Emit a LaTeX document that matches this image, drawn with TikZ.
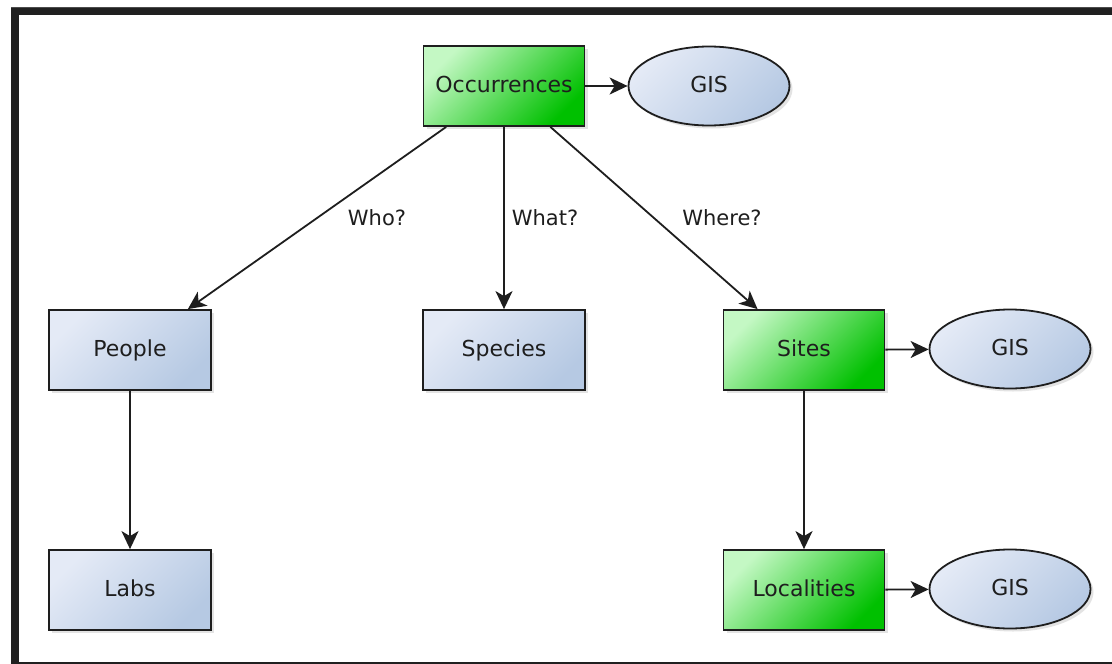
\documentclass[tikz,border=0pt]{standalone}
\usepackage{fontspec}
\setmainfont{DejaVu Sans}
\usetikzlibrary{arrows.meta,shapes.geometric,shadows}
\definecolor{frame}{HTML}{202020}
\definecolor{ink}{HTML}{1E1E1E}
\definecolor{glight}{HTML}{C4F8C4}
\definecolor{gdark}{HTML}{00C000}
\definecolor{blight}{HTML}{E4EAF6}
\definecolor{bdark}{HTML}{B6C9E3}
\tikzset{
  base/.style={draw=ink, line width=1.8pt, text=ink, font=\fontsize{22}{24}\selectfont,
    text height=16pt, text depth=4pt,
    drop shadow={opacity=0.22, shadow xshift=3pt, shadow yshift=-3pt}},
  greenbox/.style={base, rectangle, minimum width=161pt, minimum height=80pt, inner sep=0pt,
    top color=glight, bottom color=gdark, shading angle=45},
  bluebox/.style={base, rectangle, minimum width=162pt, minimum height=80pt, inner sep=0pt,
    top color=blight, bottom color=bdark, shading angle=45},
  gisnode/.style={base, ellipse, minimum width=161pt, minimum height=79pt, inner sep=0pt,
    top color=blight, bottom color=bdark, shading angle=45},
  conn/.style={draw=ink, line width=1.8pt, -{Stealth[length=18pt, width=17pt, inset=5pt]}},
  lbl/.style={text=ink, font=\fontsize{21}{24}\selectfont}
}
\begin{document}
\begin{tikzpicture}[x=1pt, y=-1pt]
\useasboundingbox (0,0) rectangle (1112,664);
\fill[white] (0,0) rectangle (1112,664);
% frame
\fill[frame] (11,7) rectangle (1112,15);
\fill[frame] (11,7) rectangle (19,664);
\fill[frame] (11,662) rectangle (1112,664);
\fill[black!70] (11,7) rectangle (1112,8);

\node[greenbox] (occ) at (504,86) {Occurrences};
\node[gisnode] (gis1) at (709,86) {GIS};
\node[bluebox] (people) at (130,350) {People};
\node[bluebox] (species) at (504,350) {Species};
\node[greenbox] (sites) at (804,350) {Sites};
\node[gisnode] (gis2) at (1010,349) {GIS};
\node[bluebox] (labs) at (130,590) {Labs};
\node[greenbox] (loc) at (804,590) {Localities};
\node[gisnode] (gis3) at (1010,589) {GIS};

\draw[conn] (occ) -- (gis1);
\draw[conn] (occ) -- (people);
\draw[conn] (occ) -- (species);
\draw[conn] (occ) -- (sites);
\draw[conn] (sites) -- (gis2);
\draw[conn] (loc) -- (gis3);
\draw[conn] (people) -- (labs);
\draw[conn] (sites) -- (loc);

\node[lbl] (who) at (377,218) {Who?};
\node[lbl] (what) at (545,218) {What?};
\node[lbl] (where) at (722,218) {Where?};
\end{tikzpicture}
\end{document}
